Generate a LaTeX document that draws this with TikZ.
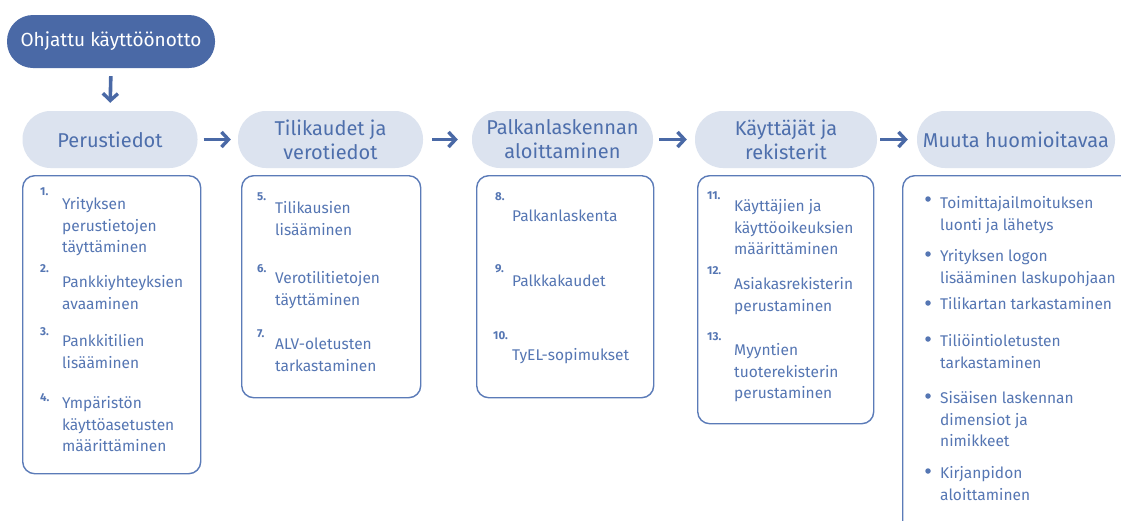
\documentclass[tikz,border=0pt]{standalone}
\usepackage{fontspec}
\setmainfont{Fira Sans}
\usetikzlibrary{arrows.meta}
\definecolor{dkblue}{HTML}{4A69A6}
\definecolor{ltblue}{HTML}{DCE3EF}
\definecolor{txtblue}{HTML}{4E6FAC}
\definecolor{itemblue}{HTML}{5576B3}
\definecolor{bordblue}{HTML}{5B7BB8}
\begin{document}
\begin{tikzpicture}[x=1pt,y=-1pt,
 toppill/.style={fill=dkblue, rounded corners=26pt, minimum width=208pt, minimum height=53pt, text=white, font=\fontsize{19}{22}\selectfont, inner sep=0},
 head/.style={fill=ltblue, rounded corners=28pt, minimum height=57pt, text=txtblue, font=\fontsize{20}{24}\selectfont, align=center, inner sep=0},
 card/.style={draw=bordblue, line width=1.4pt, rounded corners=12pt, fill=white, anchor=north west, inner sep=0},
 item/.style={anchor=north west, inner sep=0, text=itemblue, font=\fontsize{15.5}{21.5}\selectfont, align=left},
 num/.style={anchor=west, inner sep=0, text=itemblue, font=\fontsize{11.5}{13}\selectfont\bfseries},
 flow/.style={draw=dkblue, line width=3.6pt, -{Straight Barb[length=7pt,width=15pt,line width=3.4pt]}},
 dot/.style={circle, fill=itemblue, inner sep=0, minimum size=5.5pt},
]
\clip (0,0) rectangle (1121,520);
\fill[white] (0,0) rectangle (1121,520);

% top pill
\node[toppill] (top) at (111,41.5) {Ohjattu käyttöönotto};

% headers
\node[head, minimum width=175pt] (h1) at (110,139.5) {Perustiedot};
\node[head, minimum width=185pt] (h2) at (330.5,139.5) {Tilikaudet ja\\verotiedot};
\node[head, minimum width=181pt] (h3) at (562.5,139.5) {Palkanlaskennan\\aloittaminen};
\node[head, minimum width=182pt] (h4) at (786,139.5) {Käyttäjät ja\\rekisterit};
\node[head, minimum width=198pt] (h5) at (1016,139.5) {Muuta huomioitavaa};

% arrows
\draw[flow, shorten <=8pt, shorten >=8pt] (top.south) -- (h1.north);
\draw[flow, shorten <=6pt, shorten >=7pt] (h1.east) -- (h2.west);
\draw[flow, shorten <=9pt, shorten >=14pt] (h2.east) -- (h3.west);
\draw[flow, shorten <=6pt, shorten >=8pt] (h3.east) -- (h4.west);
\draw[flow, shorten <=3pt, shorten >=9pt] (h4.east) -- (h5.west);

% cards
\node[card, minimum width=178pt, minimum height=298pt] (c1) at (22,175) {};
\node[card, minimum width=179pt, minimum height=222pt] (c2) at (241,175) {};
\node[card, minimum width=177pt, minimum height=222pt] (c3) at (476,175) {};
\node[card, minimum width=176pt, minimum height=248pt] (c4) at (697,175) {};
\node[card, minimum width=260pt, minimum height=360pt] (c5) at (902,175) {};

% card 1
\node[num] (n1) at (40,192) {1.};
\node[item] (i1) at (62,197.5) {\rule{0pt}{12pt}Yrityksen\\perustietojen\\täyttäminen};
\node[num] (n2) at (40,269) {2.};
\node[item] (i2) at (62,275.5) {\rule{0pt}{12pt}Pankkiyhteyksien\\avaaminen};
\node[num] (n3) at (40,332) {3.};
\node[item] (i3) at (62,334.5) {\rule{0pt}{12pt}Pankkitilien\\lisääminen};
\node[num] (n4) at (40,398) {4.};
\node[item] (i4) at (62,396.5) {\rule{0pt}{12pt}Ympäristön\\käyttöasetusten\\määrittäminen};

% card 2
\node[num] (n5) at (257,197) {5.};
\node[item] (i5) at (275,201.5) {\rule{0pt}{12pt}Tilikausien\\lisääminen};
\node[num] (n6) at (257,269) {6.};
\node[item] (i6) at (275,271.5) {\rule{0pt}{12pt}Verotilitietojen\\täyttäminen};
\node[num] (n7) at (257,334) {7.};
\node[item] (i7) at (275,337.5) {\rule{0pt}{12pt}ALV-oletusten\\tarkastaminen};

% card 3
\node[num] (n8) at (495,197) {8.};
\node[item] (i8) at (512,209.5) {\rule{0pt}{12pt}Palkanlaskenta};
\node[num] (n9) at (495,269) {9.};
\node[item] (i9) at (512,274.5) {\rule{0pt}{12pt}Palkkakaudet};
\node[num] (n10) at (493,336) {10.};
\node[item] (i10) at (512,348.5) {\rule{0pt}{12pt}TyEL-sopimukset};

% card 4
\node[num] (n11) at (707,196) {11.};
\node[item] (i11) at (734,199.5) {\rule{0pt}{12pt}Käyttäjien ja\\käyttöoikeuksien\\määrittäminen};
\node[num] (n12) at (707,271) {12.};
\node[item] (i12) at (734,277.5) {\rule{0pt}{12pt}Asiakasrekisterin\\perustaminen};
\node[num] (n13) at (707,337) {13.};
\node[item] (i13) at (734,343.5) {\rule{0pt}{12pt}Myyntien\\tuoterekisterin\\perustaminen};

% card 5
\node[dot] (d1) at (928,199) {};
\node[item] (j1) at (940,196.5) {\rule{0pt}{12pt}Toimittajailmoituksen\\luonti ja lähetys};
\node[dot] (d2) at (928,254) {};
\node[item] (j2) at (940,249.5) {\rule{0pt}{12pt}Yrityksen logon\\lisääminen laskupohjaan};
\node[dot] (d3) at (928,303) {};
\node[item] (j3) at (940,297.5) {\rule{0pt}{12pt}Tilikartan tarkastaminen};
\node[dot] (d4) at (928,339) {};
\node[item] (j4) at (940,334.5) {\rule{0pt}{12pt}Tiliöintioletusten\\tarkastaminen};
\node[dot] (d5) at (928,396) {};
\node[item] (j5) at (940,391.5) {\rule{0pt}{12pt}Sisäisen laskennan\\dimensiot ja\\nimikkeet};
\node[dot] (d6) at (928,471) {};
\node[item] (j6) at (940,466.5) {\rule{0pt}{12pt}Kirjanpidon\\aloittaminen};
\end{tikzpicture}
\end{document}
